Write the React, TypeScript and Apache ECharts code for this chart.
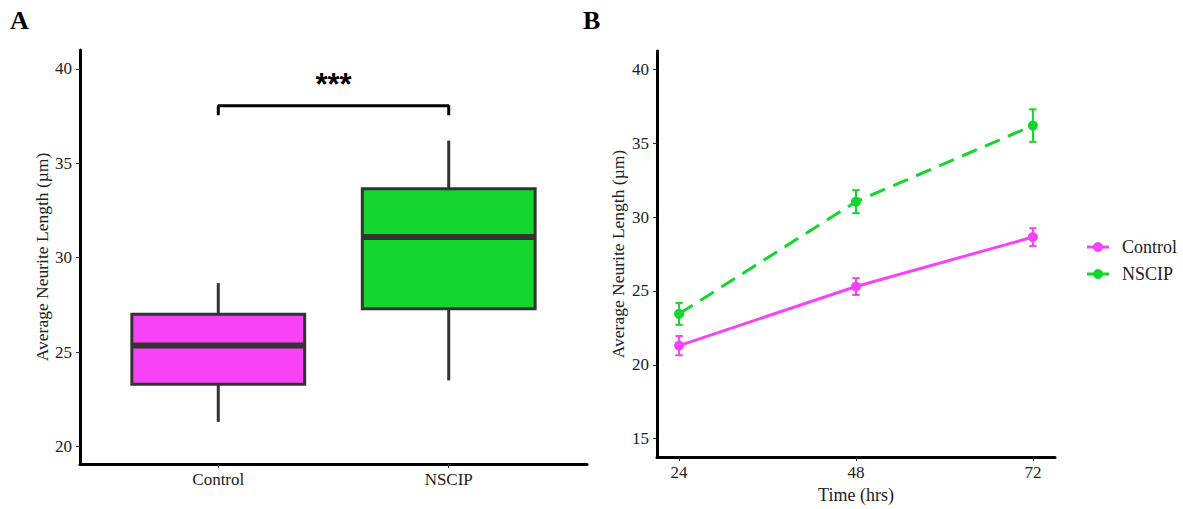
import React, { useEffect, useRef } from "react";
import * as echarts from "echarts";

// ---- Panel A: box plot data ----
const categories = ["Control", "NSCIP"];
const boxMin = [21.3, 23.5];
const boxQ1 = [23.3, 27.3];
const boxMedian = [25.35, 31.1];
const boxQ3 = [27.0, 33.65];
const boxMax = [28.65, 36.2];
const boxColors = ["#F842F8", "#14D62E"];
const yTicksA = [20, 25, 30, 35, 40];
const bracketPoints = [
  [1, 37.55],
  [1, 38.05],
  [2, 38.05],
  [2, 37.55],
];
const sigLabel = "***";
const sigPosition = [1.5, 39.15];

// ---- Panel B: time course data ----
const groups = ["Control", "NSCIP"];
const timePoints = [24, 48, 72];
const controlMean = [21.3, 25.3, 28.65];
const controlSE = [0.65, 0.57, 0.6];
const nscipMean = [23.45, 31.05, 36.2];
const nscipSE = [0.74, 0.78, 1.1];
const yTicksB = [15, 20, 25, 30, 35, 40];
const xTicksB = [24, 48, 72];

const SERIF = "Liberation Serif";
const MAGENTA = "#F842F8";
const GREEN = "#14D62E";
const groupColors = [MAGENTA, GREEN];

const axisLineStyle = { show: true, onZero: false, lineStyle: { color: "#000", width: 3 } };

function errorBarRender(color: string) {
  return (params: any, api: any) => {
    const x = api.value(0);
    const lo = api.coord([x, api.value(1)]);
    const hi = api.coord([x, api.value(2)]);
    const capL = api.coord([x - 0.5, api.value(1)]);
    const capR = api.coord([x + 0.5, api.value(1)]);
    const halfCap = (capR[0] - capL[0]) / 2;
    const style = { stroke: color, lineWidth: 2 };
    return {
      type: "group",
      children: [
        { type: "line", shape: { x1: lo[0], y1: lo[1], x2: hi[0], y2: hi[1] }, style },
        { type: "line", shape: { x1: lo[0] - halfCap, y1: lo[1], x2: lo[0] + halfCap, y2: lo[1] }, style },
        { type: "line", shape: { x1: hi[0] - halfCap, y1: hi[1], x2: hi[0] + halfCap, y2: hi[1] }, style },
      ],
    };
  };
}

function legendGraphic() {
  const left = 1087;
  const top = 247;
  const step = 27;
  return groups.map((g, i) => ({
    type: "group",
    x: left,
    y: top + i * step,
    children: [
      { type: "line", shape: { x1: 0, y1: 0, x2: 22, y2: 0 }, style: { stroke: groupColors[i], lineWidth: 3 } },
      { type: "circle", shape: { cx: 11, cy: 0, r: 5 }, style: { fill: groupColors[i] } },
      {
        type: "text",
        x: 35,
        y: 0,
        style: { text: g, font: `18px "Liberation Serif"`, fill: "#222", verticalAlign: "middle", align: "left" },
      },
    ],
  }));
}

export default function App() {
  const ref = useRef<HTMLDivElement>(null);
  useEffect(() => {
    if (!ref.current) return;
    const chart = echarts.init(ref.current, undefined, { renderer: "svg" });
    const boxData = categories.map((c, i) => [i + 1, boxMin[i], boxQ1[i], boxMedian[i], boxQ3[i], boxMax[i]]);
    const option: any = {
      animation: false,
      backgroundColor: "#ffffff",
      textStyle: { fontFamily: SERIF },
      grid: [
        { left: 80, top: 50, width: 507, height: 414 },
        { left: 657, top: 51, width: 398, height: 412 },
      ],
      xAxis: [
        {
          gridIndex: 0,
          type: "value",
          min: 0.4,
          max: 2.6,
          axisLine: axisLineStyle,
          axisTick: { show: true, customValues: [1, 2], length: 4, lineStyle: { color: "#333", width: 1 } },
          axisLabel: {
            customValues: [1, 2],
            formatter: (v: number) => categories[Math.round(v) - 1] || "",
            color: "#222",
            fontSize: 17,
            margin: 7,
            fontFamily: SERIF,
          },
          splitLine: { show: false },
        },
        {
          gridIndex: 1,
          type: "value",
          min: 21,
          max: 75,
          axisLine: axisLineStyle,
          axisTick: { show: true, customValues: xTicksB, length: 4, lineStyle: { color: "#333", width: 1 } },
          axisLabel: { customValues: xTicksB, color: "#222", fontSize: 17, margin: 7, fontFamily: SERIF },
          splitLine: { show: false },
          name: "Time (hrs)",
          nameLocation: "middle",
          nameGap: 25,
          nameTextStyle: { fontSize: 18, color: "#222", fontFamily: SERIF },
        },
      ],
      yAxis: [
        {
          gridIndex: 0,
          type: "value",
          min: 19.07,
          max: 41.0,
          axisLine: axisLineStyle,
          axisTick: { show: true, customValues: yTicksA, length: 4, lineStyle: { color: "#333", width: 1 } },
          axisLabel: { customValues: yTicksA, color: "#222", fontSize: 17, margin: 8, fontFamily: SERIF },
          splitLine: { show: false },
          name: "Average Neurite Length (µm)",
          nameLocation: "middle",
          nameRotate: 90,
          nameGap: 28,
          nameTextStyle: { fontSize: 17.5, color: "#222", fontFamily: SERIF },
        },
        {
          gridIndex: 1,
          type: "value",
          min: 13.75,
          max: 41.25,
          axisLine: axisLineStyle,
          axisTick: { show: true, customValues: yTicksB, length: 4, lineStyle: { color: "#333", width: 1 } },
          axisLabel: { customValues: yTicksB, color: "#222", fontSize: 17, margin: 8, fontFamily: SERIF },
          splitLine: { show: false },
          name: "Average Neurite Length (µm)",
          nameLocation: "middle",
          nameRotate: 90,
          nameGap: 30,
          nameTextStyle: { fontSize: 17.5, color: "#222", fontFamily: SERIF },
        },
      ],
      graphic: [
        { type: "text", left: 10, top: 7, style: { text: "A", font: `bold 26px "Liberation Serif"`, fill: "#000" } },
        { type: "text", left: 583, top: 7, style: { text: "B", font: `bold 26px "Liberation Serif"`, fill: "#000" } },
        ...legendGraphic(),
      ],
      series: [
        {
          type: "custom",
          name: "box",
          xAxisIndex: 0,
          yAxisIndex: 0,
          clip: false,
          data: boxData,
          encode: { x: 0, y: [1, 2, 3, 4, 5] },
          renderItem: (params: any, api: any) => {
            const x = api.value(0);
            const i = params.dataIndex;
            const pMin = api.coord([x, api.value(1)]);
            const pQ1 = api.coord([x - 0.375, api.value(2)]);
            const pMed = api.coord([x - 0.375, api.value(3)]);
            const pQ3 = api.coord([x + 0.375, api.value(4)]);
            const pMax = api.coord([x, api.value(5)]);
            const pRight = api.coord([x + 0.375, api.value(3)]);
            const stroke = { stroke: "#333", lineWidth: 3 };
            return {
              type: "group",
              children: [
                { type: "line", shape: { x1: pMin[0], y1: pMin[1], x2: pMin[0], y2: pQ1[1] }, style: stroke },
                { type: "line", shape: { x1: pMax[0], y1: pMax[1], x2: pMax[0], y2: pQ3[1] }, style: stroke },
                {
                  type: "rect",
                  shape: { x: pQ1[0], y: pQ3[1], width: pQ3[0] - pQ1[0], height: pQ1[1] - pQ3[1] },
                  style: { fill: boxColors[i], stroke: "#333", lineWidth: 3 },
                },
                {
                  type: "line",
                  shape: { x1: pMed[0], y1: pMed[1], x2: pRight[0], y2: pRight[1] },
                  style: { stroke: "#333", lineWidth: 6 },
                },
              ],
            };
          },
        },
        {
          type: "line",
          name: "bracket",
          xAxisIndex: 0,
          yAxisIndex: 0,
          data: bracketPoints,
          symbol: "none",
          lineStyle: { color: "#000", width: 3 },
          itemStyle: { color: "#000" },
        },
        {
          type: "custom",
          name: "significance",
          xAxisIndex: 0,
          yAxisIndex: 0,
          clip: false,
          data: [sigPosition],
          renderItem: (params: any, api: any) => {
            const p = api.coord([api.value(0), api.value(1)]);
            return {
              type: "text",
              x: p[0],
              y: p[1],
              style: {
                text: sigLabel,
                font: 'bold 31px "Liberation Sans", Arial, sans-serif',
                fill: "#000",
                align: "center",
                verticalAlign: "middle",
              },
            };
          },
        },
        {
          type: "custom",
          name: "Control error",
          xAxisIndex: 1,
          yAxisIndex: 1,
          z: 1,
          data: timePoints.map((t, i) => [t, controlMean[i] - controlSE[i], controlMean[i] + controlSE[i]]),
          renderItem: errorBarRender(MAGENTA),
        },
        {
          type: "custom",
          name: "NSCIP error",
          xAxisIndex: 1,
          yAxisIndex: 1,
          z: 1,
          data: timePoints.map((t, i) => [t, nscipMean[i] - nscipSE[i], nscipMean[i] + nscipSE[i]]),
          renderItem: errorBarRender(GREEN),
        },
        {
          type: "line",
          name: groups[0],
          xAxisIndex: 1,
          yAxisIndex: 1,
          z: 3,
          data: timePoints.map((t, i) => [t, controlMean[i]]),
          symbol: "circle",
          symbolSize: 10,
          showAllSymbol: true,
          color: MAGENTA,
          itemStyle: { color: MAGENTA },
          lineStyle: { color: MAGENTA, width: 3 },
        },
        {
          type: "line",
          name: groups[1],
          xAxisIndex: 1,
          yAxisIndex: 1,
          z: 3,
          data: timePoints.map((t, i) => [t, nscipMean[i]]),
          symbol: "circle",
          symbolSize: 10,
          showAllSymbol: true,
          color: GREEN,
          itemStyle: { color: GREEN },
          lineStyle: { color: GREEN, width: 3, type: [16, 9] },
        },
      ],
    };
    chart.setOption(option);
    return () => chart.dispose();
  }, []);
  return (
    <div
      ref={ref}
      style={{ position: "fixed", left: 0, top: 0, width: 1183, height: 509, background: "#fff" }}
    />
  );
}
